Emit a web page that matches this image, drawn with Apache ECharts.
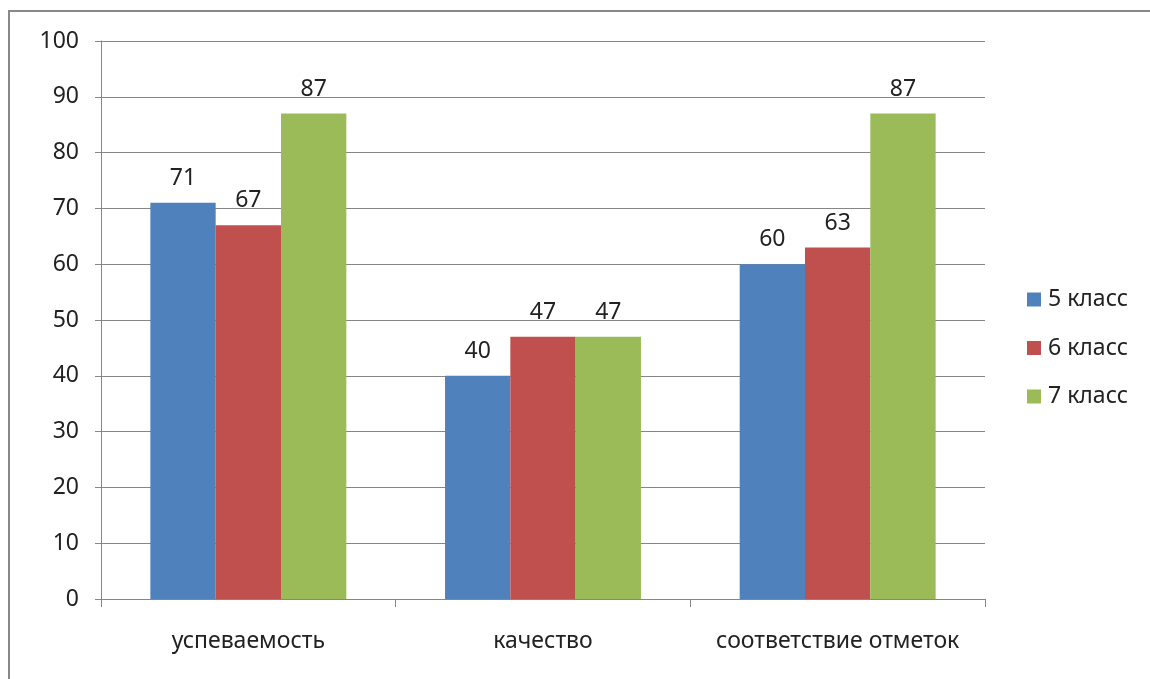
<!DOCTYPE html>
<html><head><meta charset="utf-8">
<script src="https://cdn.jsdelivr.net/npm/echarts@6/dist/echarts.min.js"></script>
<style>html,body{margin:0;padding:0;background:#fff}#c{width:1150px;height:679px}</style>
</head><body><div id="c"></div>
<script>
const categories = ['успеваемость', 'качество', 'соответствие отметок'];
const seriesNames = ['5 класс', '6 класс', '7 класс'];
const class5 = [71, 40, 60];
const class6 = [67, 47, 63];
const class7 = [87, 47, 87];
const colors = ['#4F81BD', '#C0504D', '#9BBB59'];
const font = '"Noto Sans", "Open Sans", sans-serif';
const chart = echarts.init(document.getElementById('c'), null, {renderer: 'canvas'});
const mk = (name, data, color) => ({
  name, type: 'bar', data, barGap: '0%', barCategoryGap: '33.5%',
  itemStyle: {color},
  label: {show: true, position: 'top', distance: 13, color: '#222', fontSize: 23, fontFamily: font}
});
chart.setOption({
  animation: false,
  textStyle: {fontFamily: font},
  graphic: [{type: 'rect', shape: {x: 9, y: 11, width: 1200, height: 700}, style: {fill: 'none', stroke: '#888', lineWidth: 2}, silent: true}],
  grid: {left: 101, right: 165, top: 41, bottom: 80, containLabel: false},
  legend: {
    orient: 'vertical', left: 1027, top: 288, padding: 0, itemWidth: 14, itemHeight: 14, itemGap: 25.5,
    icon: 'rect', data: seriesNames,
    textStyle: {fontSize: 23, lineHeight: 23, color: '#222', fontFamily: font, padding: [0, 0, 0, 2]}
  },
  xAxis: {
    type: 'category', data: categories,
    axisLine: {lineStyle: {color: '#868686'}},
    axisTick: {show: true, length: 8, interval: 0, lineStyle: {color: '#868686'}},
    axisLabel: {fontSize: 23, color: '#222', margin: 31, interval: 0, fontFamily: font}
  },
  yAxis: {
    type: 'value', min: 0, max: 100, interval: 10,
    axisLine: {show: true, lineStyle: {color: '#868686'}},
    axisTick: {show: true, length: 6, lineStyle: {color: '#868686'}},
    splitLine: {lineStyle: {color: '#868686'}},
    axisLabel: {fontSize: 23, color: '#222', margin: 22, fontFamily: font}
  },
  series: [mk(seriesNames[0], class5, colors[0]), mk(seriesNames[1], class6, colors[1]), mk(seriesNames[2], class7, colors[2])]
});
</script></body></html>
